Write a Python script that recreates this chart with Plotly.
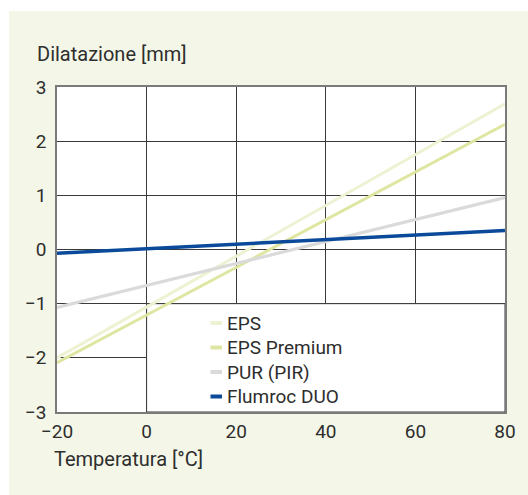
import plotly.graph_objects as go

# ---- data ----
temperature = [-20, 80]
series_names = ["EPS", "EPS Premium", "PUR (PIR)", "Flumroc DUO"]
eps = [-2.0, 2.69]
eps_premium = [-2.09, 2.31]
pur = [-1.07, 0.96]
flumroc = [-0.07, 0.35]
series_values = [eps, eps_premium, pur, flumroc]

x_ticks = [-20, 0, 20, 40, 60, 80]
y_ticks = [-3, -2, -1, 0, 1, 2, 3]

colors = ["#eef2d3", "#dfe6a2", "#dadada", "#0b4a9b"]
widths = [3, 3, 3.2, 3.4]

FONT = "Roboto, Liberation Sans, sans-serif"
TXT = "#2e2e2e"
GRID = "#3a3a3a"
PANEL = "#f4f7e8"

fig = go.Figure()
for name, vals, c, w in zip(series_names, series_values, colors, widths):
    fig.add_trace(go.Scatter(x=temperature, y=vals, mode="lines", name=name,
                             line=dict(color=c, width=w), showlegend=False,
                             hoverinfo="skip"))

W, H = 528, 495
ml, mr, mt, mb = 57, 23, 87, 83
pw, ph = W - ml - mr, H - mt - mb

def px(xp):
    return (xp - ml) / pw

def py(yp):
    return 1 - (yp - mt) / ph

shapes = []
# white strips outside panel (top & left)
shapes.append(dict(type="rect", xref="paper", yref="paper", x0=px(-5), x1=px(W + 5),
                   y0=py(11), y1=py(-5), fillcolor="white", line=dict(width=0), layer="below"))
shapes.append(dict(type="rect", xref="paper", yref="paper", x0=px(-5), x1=px(9),
                   y0=py(H + 5), y1=py(-5), fillcolor="white", line=dict(width=0), layer="below"))
# legend box covering grid
shapes.append(dict(type="rect", xref="x", yref="y", x0=0, x1=80, y0=-3, y1=-1,
                   fillcolor="white", line=dict(color=GRID, width=1), layer="between"))

annotations = []
# manual legend
row0 = 323
dy = 24.5
for i, (name, c) in enumerate(zip(series_names, colors)):
    yy = py(row0 + i * dy)
    shapes.append(dict(type="line", xref="paper", yref="paper", x0=px(210.5), x1=px(222),
                       y0=yy, y1=yy, line=dict(color=c, width=4), layer="above"))
    annotations.append(dict(text=name, xref="paper", yref="paper", x=px(225), y=yy,
                            xanchor="left", yanchor="middle", showarrow=False,
                            font=dict(family=FONT, size=19, color=TXT)))

annotations.append(dict(text="Dilatazione [mm]", xref="paper", yref="paper", x=px(35), y=py(54),
                        xanchor="left", yanchor="middle", showarrow=False,
                        font=dict(family=FONT, size=20, color=TXT)))
annotations.append(dict(text="Temperatura [°C]", xref="paper", yref="paper", x=px(52), y=py(459),
                        xanchor="left", yanchor="middle", showarrow=False,
                        font=dict(family=FONT, size=20, color=TXT)))

fig.update_layout(
    width=W, height=H,
    margin=dict(l=ml, r=mr, t=mt, b=mb, pad=0),
    paper_bgcolor=PANEL, plot_bgcolor="white",
    shapes=shapes, annotations=annotations,
    showlegend=False,
    font=dict(family=FONT, size=19, color=TXT),
)
fig.update_xaxes(range=[-20, 80], tickvals=x_ticks, showgrid=True, gridcolor=GRID, gridwidth=1,
                 zeroline=False, showline=True, linecolor="#7a7a7a", linewidth=1.5, mirror=True,
                 ticks="", ticklabelstandoff=1, tickfont=dict(family=FONT, size=19, color=TXT),
                 fixedrange=True)
fig.update_yaxes(range=[-3, 3], tickvals=y_ticks, showgrid=True, gridcolor=GRID, gridwidth=1,
                 zeroline=False, showline=True, linecolor="#7a7a7a", linewidth=1.5, mirror=True,
                 ticks="", ticklabelstandoff=5, tickfont=dict(family=FONT, size=19, color=TXT),
                 fixedrange=True)

fig.write_html("out.html", config={"displayModeBar": False},
               post_script="document.body.style.margin='0px';document.body.style.overflow='hidden';")
